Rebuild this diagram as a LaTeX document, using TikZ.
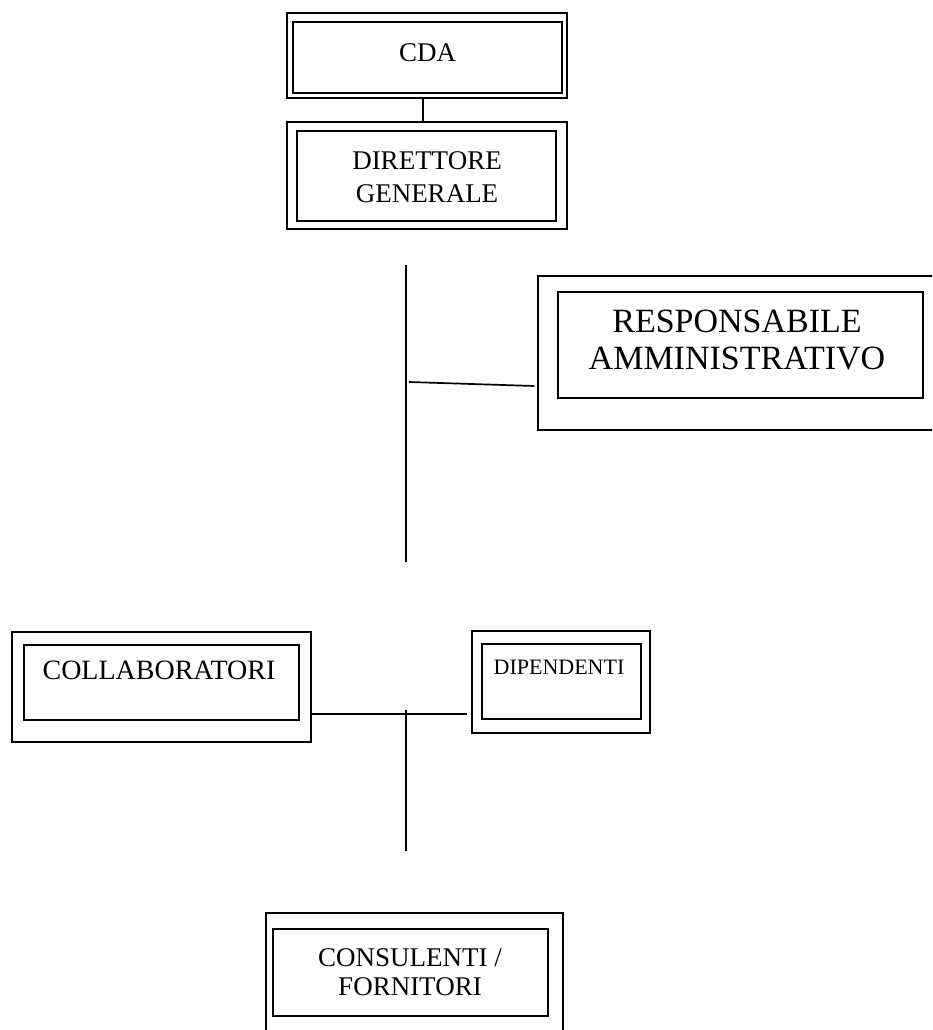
\documentclass[tikz,border=0pt]{standalone}
\usepackage{fontspec}
\setmainfont{Liberation Serif}
\begin{document}
\begin{tikzpicture}[x=1pt,y=-1pt,
  outerbox/.style={draw, line width=1.5pt, rectangle, inner sep=0pt},
  innerbox/.style={draw, line width=1.2pt, rectangle, inner sep=0pt},
  label/.style={align=center, inner sep=0pt},
  link/.style={line width=1.7pt}]
\useasboundingbox (0,0) rectangle (932,1030);
\clip (0,0) rectangle (932,1030);
% CDA
\node[outerbox, minimum width=280pt, minimum height=85pt] (cdaO) at (427,55.5) {};
\node[innerbox, minimum width=269pt, minimum height=71pt] (cdaI) at (427.5,57.5) {};
\node[label, font=\fontsize{27}{33}\selectfont] (cdaT) at (427.5,52.5) {CDA};
% Direttore generale
\node[outerbox, minimum width=280pt, minimum height=107pt] (dgO) at (427,175.5) {};
\node[innerbox, minimum width=259pt, minimum height=90pt] (dgI) at (426.5,176) {};
\node[label, font=\fontsize{27}{33}\selectfont] (dgT) at (427,177.5) {DIRETTORE\\GENERALE};
% Responsabile amministrativo
\node[outerbox, line width=1.3pt, minimum width=402pt, minimum height=154pt] (respO) at (739,353) {};
\node[innerbox, minimum width=365pt, minimum height=106pt] (respI) at (740.5,345) {};
\node[label, font=\fontsize{34}{37}\selectfont] (respT) at (737,340) {RESPONSABILE\\AMMINISTRATIVO};
% Collaboratori
\node[outerbox, minimum width=299pt, minimum height=110pt] (colO) at (161.5,687) {};
\node[innerbox, minimum width=275pt, minimum height=75pt] (colI) at (161.5,682.5) {};
\node[label, font=\fontsize{28}{33}\selectfont] (colT) at (159,670) {COLLABORATORI};
% Dipendenti
\node[outerbox, minimum width=178pt, minimum height=102pt] (dipO) at (561,682) {};
\node[innerbox, minimum width=159pt, minimum height=75pt] (dipI) at (561.5,681.5) {};
\node[label, font=\fontsize{22}{26}\selectfont] (dipT) at (559,667) {DIPENDENTI};
% Consulenti / fornitori
\node[outerbox, minimum width=297pt, minimum height=140pt] (conO) at (414.5,983) {};
\node[innerbox, minimum width=275pt, minimum height=87pt] (conI) at (410.5,972.5) {};
\node[label, font=\fontsize{27}{29}\selectfont] (conT) at (410,972) {CONSULENTI /\\FORNITORI};
% connectors
\coordinate (v1top) at (406,265);
\coordinate (v1bot) at (406,562);
\coordinate (h1) at (409,382);
\coordinate (v2top) at (406,710);
\coordinate (v2bot) at (406,851);
\draw[link] ([xshift=-4pt]cdaO.south) -- ([xshift=-4pt]dgO.north);
\draw[link] (v1top) -- (v1bot);
\draw[link] (h1) -- ([xshift=-3pt,yshift=-33pt]respO.west);
\draw[link] ([yshift=-27pt]colO.east) -- ([xshift=-4pt,yshift=-32pt]dipO.west);
\draw[link] (v2top) -- (v2bot);
\end{tikzpicture}
\end{document}
